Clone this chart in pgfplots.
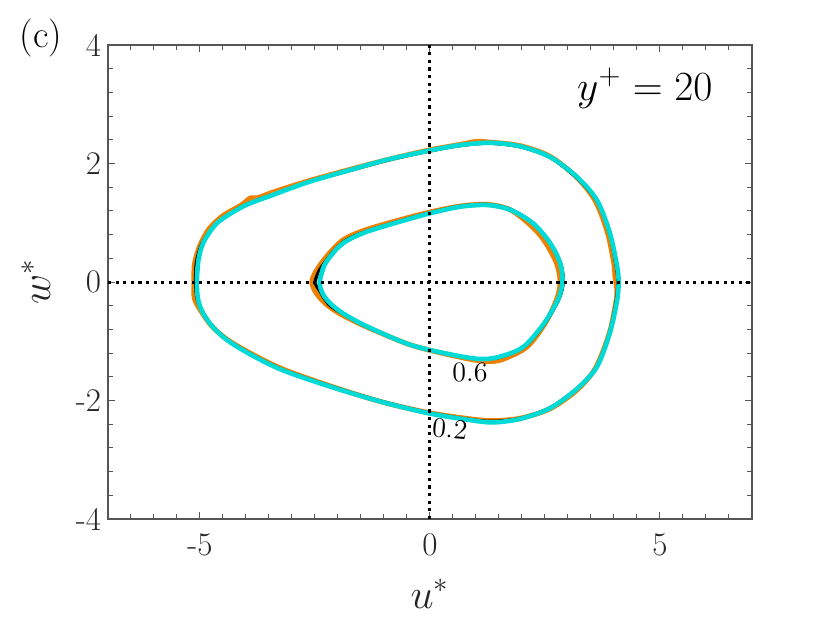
\documentclass[border=0pt]{standalone}
\usepackage{pgfplots}
\pgfplotsset{compat=1.18}
\definecolor{myorange}{RGB}{238,128,0}
\definecolor{mycyan}{RGB}{0,218,214}
\definecolor{axgray}{RGB}{85,85,85}
\begin{document}
\begin{tikzpicture}
\useasboundingbox (-54pt,-52pt) rectangle (361pt,259.5pt);
\begin{axis}[at={(0,0)}, anchor=south west, scale only axis, width=322pt, height=237pt,
 xmin=-7,xmax=7,ymin=-4,ymax=4, clip mode=individual,
 xtick={-5,0,5}, xticklabels={-5,0,5},
 ytick={-4,-2,0,2,4}, yticklabels={-4,-2,0,2,4},
 minor xtick={-6.5,-6,-5.5,-4.5,-4,-3.5,-3,-2.5,-2,-1.5,-1,-0.5,0.5,1,1.5,2,2.5,3,3.5,4,4.5,5.5,6,6.5},
 minor ytick={-3.6,-3.2,-2.8,-2.4,-1.6,-1.2,-0.8,-0.4,0.4,0.8,1.2,1.6,2.4,2.8,3.2,3.6},
 tick align=inside, major tick length=3.5pt, minor tick length=2.5pt,
 tick style={axgray, line width=0.5pt},
 axis line style={axgray, line width=0.7pt},
 ticklabel style={font=\fontsize{16.5}{19}\selectfont, text=black!85},
 xticklabel style={yshift=-4pt},
 xlabel={$u^*$}, ylabel={$w^*$},
 xlabel style={at={(axis description cs:0.5,-0.1878)}, anchor=base, font=\fontsize{20}{24}\selectfont, text=black!85},
 ylabel style={at={(axis description cs:-0.09,0.5)}, anchor=base, font=\fontsize{20}{24}\selectfont, text=black!85},
 every axis plot/.append style={smooth, tension=0.5, line join=round},
]
% orange (bottom)
\addplot[myorange, line width=2.5pt] coordinates {
(-5.13,0) (-5.12,0.3) (-5.0,0.62) (-4.8,0.9) (-4.5,1.12) (-4.1,1.3) (-3.9,1.42) (-3.75,1.42)
(-3.4,1.52) (-2.67,1.70) (-1.74,1.90) (-0.9,2.07) (0,2.23) (0.65,2.32) (1.0,2.37) (1.30,2.36)
(1.96,2.30) (2.61,2.12) (3.2,1.76) (3.6,1.36) (3.86,0.83) (4.0,0.3) (4.02,0.1) (4.06,-0.1)
(4.05,-0.30) (3.9,-0.86) (3.6,-1.45) (3.2,-1.82) (2.61,-2.14) (1.96,-2.30) (1.37,-2.34)
(0.87,-2.31) (0,-2.21) (-1.02,-2.03) (-2.11,-1.77) (-3.2,-1.47) (-3.91,-1.20) (-4.41,-0.97)
(-4.75,-0.74) (-4.97,-0.50) (-5.12,-0.28) (-5.13,0) (-5.12,0.3)};
\addplot[myorange, line width=2.5pt] coordinates {
(-2.57,0) (-2.5,0.15) (-2.35,0.33) (-2.1,0.56) (-1.85,0.73) (-1.4,0.88) (-0.65,1.05) (0,1.18)
(0.65,1.28) (1.24,1.31) (1.74,1.22) (2.2,0.95) (2.5,0.68) (2.75,0.32) (2.83,0) (2.75,-0.30)
(2.5,-0.70) (2.1,-1.1) (1.52,-1.32) (1.09,-1.33) (0.43,-1.23) (-0.43,-1.06) (-1.37,-0.76)
(-1.9,-0.56) (-2.25,-0.38) (-2.48,-0.18) (-2.57,0) (-2.5,0.15)};
% black
\addplot[black, line width=1.5pt] coordinates {
(-5.1,0) (-5.08,0.33) (-4.95,0.66) (-4.62,1.0) (-4.05,1.29) (-3.45,1.46) (-2.67,1.68)
(-1.74,1.88) (-0.9,2.06) (0,2.21) (0.65,2.30) (1.30,2.34) (1.96,2.28) (2.61,2.10) (3.2,1.75)
(3.63,1.36) (3.9,0.83) (4.05,0.25) (4.08,0) (4.05,-0.30) (3.9,-0.86) (3.62,-1.43) (3.2,-1.79)
(2.61,-2.12) (1.96,-2.30) (1.37,-2.35) (0.87,-2.32) (0,-2.21) (-1.02,-2.02) (-2.11,-1.77)
(-3.2,-1.48) (-3.91,-1.21) (-4.41,-0.97) (-4.72,-0.75) (-4.93,-0.52) (-5.06,-0.3) (-5.1,0) (-5.08,0.33)};
\addplot[black, line width=1.5pt] coordinates {
(-2.5,0) (-2.42,0.18) (-2.27,0.35) (-2.05,0.56) (-1.8,0.72) (-1.37,0.86) (-0.65,1.03) (0,1.17)
(0.65,1.28) (1.24,1.31) (1.74,1.23) (2.24,1.0) (2.6,0.66) (2.84,0.32) (2.9,0) (2.8,-0.30)
(2.48,-0.72) (2.04,-1.1) (1.52,-1.27) (1.09,-1.30) (0.43,-1.22) (-0.43,-1.06) (-1.37,-0.76)
(-1.89,-0.54) (-2.2,-0.38) (-2.4,-0.15) (-2.5,0) (-2.42,0.18)};
% cyan (top)
\addplot[mycyan, line width=2.3pt] coordinates {
(-5.07,0) (-5.04,0.34) (-4.93,0.66) (-4.62,1.0) (-4.05,1.28) (-3.45,1.46) (-2.67,1.68)
(-1.74,1.89) (-0.9,2.07) (0,2.22) (0.65,2.31) (1.30,2.35) (1.96,2.29) (2.61,2.11) (3.2,1.77)
(3.63,1.38) (3.91,0.83) (4.07,0.25) (4.1,0) (4.07,-0.30) (3.91,-0.86) (3.63,-1.43) (3.2,-1.80)
(2.61,-2.13) (1.96,-2.31) (1.37,-2.37) (0.87,-2.33) (0,-2.22) (-1.02,-2.03) (-2.11,-1.78)
(-3.2,-1.49) (-3.91,-1.22) (-4.41,-0.98) (-4.72,-0.76) (-4.93,-0.53) (-5.04,-0.30) (-5.07,0) (-5.04,0.34)};
\addplot[mycyan, line width=2.3pt] coordinates {
(-2.40,0) (-2.30,0.28) (-2.05,0.54) (-1.8,0.70) (-1.37,0.85) (-0.65,1.02) (0,1.16) (0.65,1.27)
(1.24,1.30) (1.74,1.22) (2.24,0.99) (2.61,0.66) (2.83,0.32) (2.88,0) (2.78,-0.30) (2.46,-0.72)
(2.02,-1.1) (1.52,-1.26) (1.09,-1.30) (0.43,-1.22) (-0.43,-1.06) (-1.37,-0.75) (-1.89,-0.53)
(-2.17,-0.36) (-2.33,-0.20) (-2.40,0) (-2.30,0.28)};
% dotted axes
\addplot[black, line width=1.5pt, dash pattern=on 1.6pt off 2.2pt, sharp plot] coordinates {(0,-4) (0,4)};
\addplot[black, line width=1.5pt, dash pattern=on 1.6pt off 2.2pt, sharp plot] coordinates {(-7,0) (7,0)};
\node[font=\fontsize{14}{17}\selectfont] at (axis cs:0.87,-1.52) {0.6};
\node[font=\fontsize{14}{17}\selectfont, rotate=-5] at (axis cs:0.43,-2.48) {0.2};
\node[font=\fontsize{20.5}{24}\selectfont] at (axis cs:4.67,3.27) {$y^+=20$};
\node[font=\fontsize{19}{22}\selectfont] at (axis description cs:-0.104,1.015) {(c)};
\end{axis}
\end{tikzpicture}
\end{document}
